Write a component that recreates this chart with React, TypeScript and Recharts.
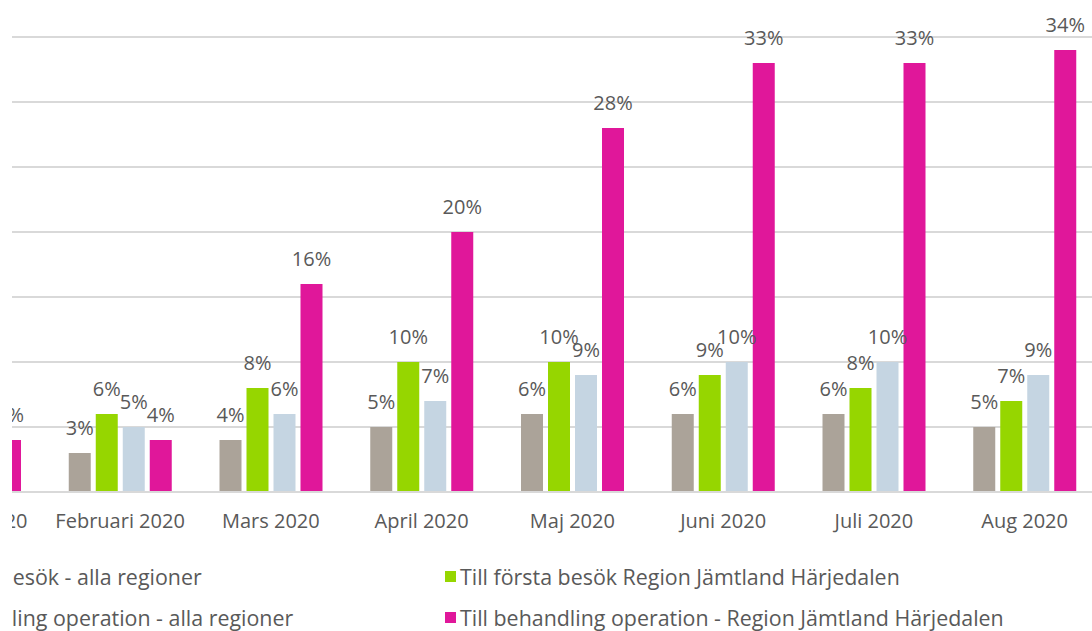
import { Bar, BarChart, CartesianGrid, LabelList, XAxis, YAxis } from "recharts";

const categories = [
    "Januari 2020",
    "Februari 2020",
    "Mars 2020",
    "April 2020",
    "Maj 2020",
    "Juni 2020",
    "Juli 2020",
    "Aug 2020",
];
const forstaAlla = [3, 3, 4, 5, 6, 6, 6, 5];
const forstaJH = [5, 6, 8, 10, 10, 9, 8, 7];
const behandlingAlla = [4, 5, 6, 7, 9, 10, 10, 9];
const behandlingJH = [4, 4, 16, 20, 28, 33, 33, 34];
const yTicks = [0, 5, 10, 15, 20, 25, 30, 35];

const series = [
    { key: "forstaAlla", name: "Till första besök - alla regioner", color: "#ABA399" },
    { key: "forstaJH", name: "Till första besök Region Jämtland Härjedalen", color: "#96D600" },
    { key: "behandlingAlla", name: "Till behandling operation - alla regioner", color: "#C5D5E2" },
    { key: "behandlingJH", name: "Till behandling operation - Region Jämtland Härjedalen", color: "#E0179A" },
];

const FONT = "'Open Sans', 'Liberation Sans', sans-serif";
const TEXT = "#595959";

// Legend order: row 1 = gray, green; row 2 = blue, magenta
const legendRows = [
    [series[0], series[1]],
    [series[2], series[3]],
];

const App = () => {
    const data = categories.map((name, i) => ({
        name,
        forstaAlla: forstaAlla[i],
        forstaJH: forstaJH[i],
        behandlingAlla: behandlingAlla[i],
        behandlingJH: behandlingJH[i],
    }));

    return (
        <div
            style={{
                position: "fixed",
                left: 0,
                top: 0,
                width: 1092,
                height: 631,
                background: "#fff",
                overflow: "hidden",
                fontFamily: FONT,
            }}
        >
            <div
                style={{
                    position: "absolute",
                    left: 12,
                    top: 0,
                    width: 1080,
                    height: 631,
                    overflow: "hidden",
                }}
            >
                <div style={{ position: "absolute", left: -118, top: 0 }}>
                    <BarChart
                        width={1206}
                        height={545}
                        data={data}
                        margin={{ top: 37, right: 0, bottom: 0, left: 0 }}
                        barSize={22}
                        barGap={5}
                    >
                        <CartesianGrid
                            vertical={false}
                            stroke="#D9D9D9"
                            strokeWidth={2}
                        />
                        <XAxis
                            dataKey="name"
                            height={53}
                            tickLine={false}
                            tickSize={0}
                            tickMargin={22}
                            axisLine={{ stroke: "#D9D9D9", strokeWidth: 2 }}
                            tick={{ fill: TEXT, fontSize: 20, fontFamily: FONT }}
                            interval={0}
                        />
                        <YAxis hide domain={[0, 35]} ticks={yTicks} width={0} />
                        {series.map((s) => (
                            <Bar
                                key={s.key}
                                dataKey={s.key}
                                name={s.name}
                                fill={s.color}
                                isAnimationActive={false}
                            >
                                <LabelList
                                    dataKey={s.key}
                                    position="top"
                                    offset={18}
                                    formatter={(v: number) => `${v}%`}
                                    fill={TEXT}
                                    fontSize={20}
                                    fontFamily={FONT}
                                />
                            </Bar>
                        ))}
                    </BarChart>
                </div>
                {legendRows.map((row, r) => (
                    <div key={r}>
                        {row.map((s, c) => (
                            <div
                                key={s.key}
                                style={{
                                    position: "absolute",
                                    left: (c === 0 ? -113 : 445) - 12,
                                    top: (r === 0 ? 576 : 617) - 14,
                                    height: 28,
                                    display: "flex",
                                    alignItems: "center",
                                    whiteSpace: "nowrap",
                                    fontSize: 21.4,
                                    color: TEXT,
                                }}
                            >
                                <span
                                    style={{
                                        display: "inline-block",
                                        width: 11,
                                        height: 11,
                                        background: s.color,
                                        marginRight: 4,
                                    }}
                                />
                                {s.name}
                            </div>
                        ))}
                    </div>
                ))}
            </div>
        </div>
    );
};

export default App;
